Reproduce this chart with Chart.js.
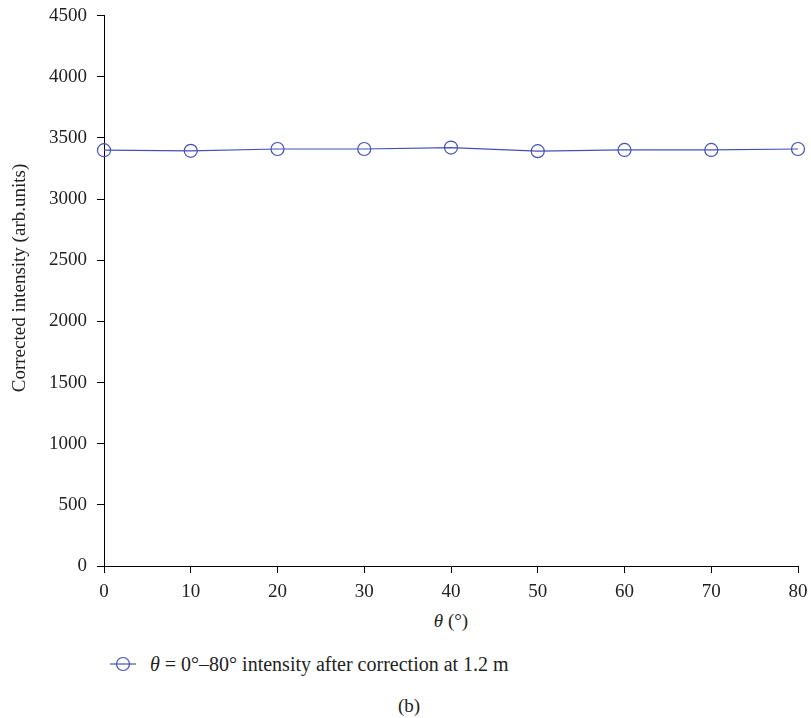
<!DOCTYPE html>
<html lang="en">
<head>
<meta charset="UTF-8">
<title>Corrected intensity</title>
<script src="https://cdn.jsdelivr.net/npm/chart.js"></script>
<style>
    body { margin: 0; background: #fff; font-family: "Liberation Serif", "DejaVu Serif", serif; }
    #wrap { position: relative; width: 811px; height: 718px; }
    .txt { position: absolute; font-size: 19px; line-height: 22px; color: #222; white-space: nowrap; }
    #xtitle { left: 0; width: 902px; top: 610px; text-align: center; }
    #legend { left: 110px; top: 653px; display: flex; align-items: center; font-size: 20px; }
    #legend svg { margin-right: 14px; }
    #caption { left: 0; width: 818px; top: 695px; text-align: center; }
</style>
</head>
<body>
<div id="wrap">
    <canvas id="myChart" width="811" height="600"></canvas>
    <div class="txt" id="xtitle"><i>θ</i> (°)</div>
    <div class="txt" id="legend">
        <svg width="26" height="16"><line x1="0" y1="8" x2="26" y2="8" stroke="#4450b8" stroke-width="1.2"/><circle cx="13" cy="8" r="6.5" fill="none" stroke="#4450b8" stroke-width="1.2"/></svg>
        <span><i>θ</i> = 0°–80° intensity after correction at 1.2 m</span>
    </div>
    <div class="txt" id="caption">(b)</div>
</div>

<script>
    // angles (deg) and corrected intensity
    const angles = [0, 10, 20, 30, 40, 50, 60, 70, 80]
    const intensity = [3400, 3395, 3410, 3410, 3422, 3392, 3402, 3402, 3410]
    const yTicks = [0, 500, 1000, 1500, 2000, 2500, 3000, 3500, 4000, 4500]
    const xTicks = [0, 10, 20, 30, 40, 50, 60, 70, 80]
    const yTitle = 'Corrected intensity (arb.units)'

    const blue = '#4450b8'
    const fontFamily = '"Liberation Serif", "DejaVu Serif", serif'
    const font = { family: fontFamily, size: 19 }

    const axisGrid = {
        display: true,
        drawOnChartArea: false,
        drawTicks: true,
        tickLength: 7,
        tickColor: '#000',
        tickWidth: 1
    }

    // y title sits a little above the axis middle in the original, so draw it by hand
    const yTitlePlugin = {
        id: 'yTitle',
        afterDraw(chart) {
            const c = chart.ctx
            c.save()
            c.translate(20, 278)
            c.rotate(-Math.PI / 2)
            c.font = '19px ' + fontFamily
            c.fillStyle = '#222'
            c.textAlign = 'center'
            c.textBaseline = 'middle'
            c.fillText(yTitle, 0, 0)
            c.restore()
        }
    }

    const ctx = document.getElementById('myChart')
    window.chart = new Chart(ctx, {
        type: 'line',
        data: {
            datasets: [{
                label: 'θ = 0°–80° intensity after correction at 1.2 m',
                data: angles.map((a, i) => ({ x: a, y: intensity[i] })),
                borderColor: blue,
                borderWidth: 1.2,
                backgroundColor: 'transparent',
                pointStyle: 'circle',
                pointRadius: 6.5,
                pointBorderWidth: 1.2,
                pointBorderColor: blue,
                pointBackgroundColor: 'transparent',
                tension: 0,
                clip: false
            }]
        },
        options: {
            responsive: false,
            animation: false,
            layout: { autoPadding: false, padding: { top: 15, right: 13, left: 10, bottom: 0 } },
            plugins: {
                legend: { display: false },
                tooltip: { enabled: false }
            },
            scales: {
                x: {
                    type: 'linear',
                    min: 0,
                    max: 80,
                    afterBuildTicks: s => { s.ticks = xTicks.map(v => ({ value: v })) },
                    afterFit: s => { s.height = 34; s.paddingRight = 0; s.paddingLeft = 0 },
                    grid: axisGrid,
                    border: { color: '#000', width: 1 },
                    ticks: { color: '#222', font: font, padding: 8, maxRotation: 0, callback: v => String(v) }
                },
                y: {
                    min: 0,
                    max: 4500,
                    afterBuildTicks: s => { s.ticks = yTicks.map(v => ({ value: v })) },
                    afterFit: s => { s.width = 94 },
                    grid: axisGrid,
                    border: { color: '#000', width: 1 },
                    ticks: { color: '#222', font: { family: fontFamily, size: 19, lineHeight: 0.6 }, padding: 10, callback: v => String(v) }
                }
            }
        },
        plugins: [yTitlePlugin]
    })
</script>
</body>
</html>
